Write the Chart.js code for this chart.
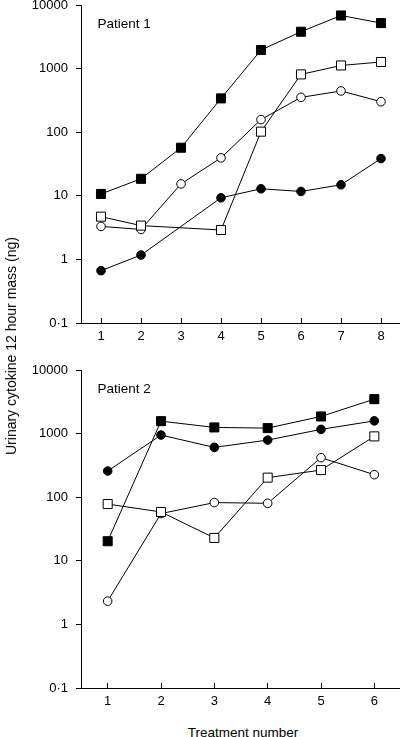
<!DOCTYPE html>
<html>
<head>
<meta charset="utf-8">
<script src="https://cdn.jsdelivr.net/npm/chart.js@4"></script>
<style>
  body { margin: 0; background: #fff; width: 400px; height: 737px; overflow: hidden; position: relative; }
  canvas { position: absolute; left: 0; }
  .txt { position: absolute; font-family: 'Liberation Sans', Arial, Helvetica, sans-serif; color: #000; white-space: nowrap; }
</style>
</head>
<body>
<canvas id="grafica1" width="401" height="345" style="top:0"></canvas>
<canvas id="grafica2" width="401" height="345" style="top:365px"></canvas>
<div class="txt" style="left:11px; top:346px; font-size:14px; transform:translate(-50%,-50%) rotate(-90deg);">Urinary cytokine 12 hour mass (ng)</div>
<div class="txt" style="left:243px; top:732px; font-size:13.5px; transform:translate(-50%,-50%);">Treatment number</div>
<script>
// Datos
const tratamientos1 = [1, 2, 3, 4, 5, 6, 7, 8];
const tratamientos2 = [1, 2, 3, 4, 5, 6];
const marcasY = [0.1, 1, 10, 100, 1000, 10000];
const etiquetasY = ['0·1', '1', '10', '100', '1000', '10000'];

// Paciente 1
const p1CuadradoLleno = [10.7, 18.5, 57, 340, 1960, 3800, 6840, 5200];
const p1CuadradoVacio = [4.7, 3.4, null, 2.9, 102, 811, 1120, 1270];
const p1CirculoVacio = [3.3, 2.96, 15.4, 39.5, 158, 353, 445, 302];
const p1CirculoLleno = [0.665, 1.17, null, 9.3, 12.9, 11.7, 14.9, 38.5];

// Paciente 2
const p2CuadradoLleno = [20.3, 1570, 1250, 1220, 1860, 3480];
const p2CirculoLleno = [258, 948, 607, 791, 1164, 1585];
const p2CuadradoVacio = [78, 58.6, 22.9, 203, 267, 904];
const p2CirculoVacio = [2.32, 55.3, 82.3, 80.2, 419, 226];

const fuente = "'Liberation Sans', Arial, Helvetica, sans-serif";

function serie(xs, ys, forma, relleno) {
  return {
    data: ys.map((v, i) => ({ x: xs[i], y: v })),
    borderColor: '#000',
    borderWidth: 1,
    backgroundColor: relleno,
    pointBackgroundColor: relleno,
    pointBorderColor: '#000',
    pointBorderWidth: 1,
    pointStyle: forma,
    pointRadius: forma === 'rect' ? 6.4 : 4.3,
    spanGaps: true,
    tension: 0,
    clip: false,
  };
}

// texto "Patient n" dentro del area
const rotulo = {
  id: 'rotulo',
  afterDraw(chart, args, opts) {
    const ctx = chart.ctx;
    ctx.save();
    ctx.font = '13.5px ' + fuente;
    ctx.fillStyle = '#000';
    ctx.textBaseline = 'alphabetic';
    ctx.fillText(opts.texto, chart.chartArea.left + 16.5, chart.chartArea.top + 23);
    ctx.restore();
  },
};

function config(xs, sets, texto) {
  return {
    type: 'line',
    data: { datasets: sets },
    options: {
      responsive: false,
      animation: false,
      devicePixelRatio: 1,
      layout: { autoPadding: false, padding: { top: 5, left: 0, right: 0, bottom: 0 } },
      plugins: { legend: { display: false }, tooltip: { enabled: false }, rotulo: { texto: texto } },
      scales: {
        x: {
          type: 'linear',
          min: 0.5,
          max: xs.length + 0.5,
          afterBuildTicks: (s) => { s.ticks = xs.map((v) => ({ value: v })); },
          afterFit: (s) => { s.height = 22; s.paddingLeft = 0; s.paddingRight = 0; },
          grid: { display: true, drawOnChartArea: false, drawTicks: true, tickLength: -5, color: '#000', lineWidth: 1 },
          border: { display: true, color: '#000', width: 1 },
          ticks: { color: '#000', padding: 11, font: { family: fuente, size: 13 }, maxRotation: 0 },
        },
        y: {
          type: 'logarithmic',
          min: 0.1,
          max: 10000,
          afterBuildTicks: (s) => { s.ticks = marcasY.map((v) => ({ value: v })); },
          afterFit: (s) => { s.width = 81; s.paddingTop = 0; s.paddingBottom = 0; },
          grid: { display: true, drawOnChartArea: false, drawTicks: true, tickLength: 5, color: '#000', lineWidth: 1 },
          border: { display: true, color: '#000', width: 1 },
          ticks: {
            color: '#000',
            padding: 8,
            font: { family: fuente, size: 13 },
            callback: (v) => etiquetasY[marcasY.indexOf(v)],
          },
        },
      },
    },
    plugins: [rotulo],
  };
}

new Chart(document.querySelector('#grafica1'), config(tratamientos1, [
  serie(tratamientos1, p1CuadradoLleno, 'rect', '#000'),
  serie(tratamientos1, p1CuadradoVacio, 'rect', '#fff'),
  serie(tratamientos1, p1CirculoVacio, 'circle', '#fff'),
  serie(tratamientos1, p1CirculoLleno, 'circle', '#000'),
], 'Patient 1'));

new Chart(document.querySelector('#grafica2'), config(tratamientos2, [
  serie(tratamientos2, p2CuadradoLleno, 'rect', '#000'),
  serie(tratamientos2, p2CirculoLleno, 'circle', '#000'),
  serie(tratamientos2, p2CuadradoVacio, 'rect', '#fff'),
  serie(tratamientos2, p2CirculoVacio, 'circle', '#fff'),
], 'Patient 2'));
</script>
</body>
</html>
